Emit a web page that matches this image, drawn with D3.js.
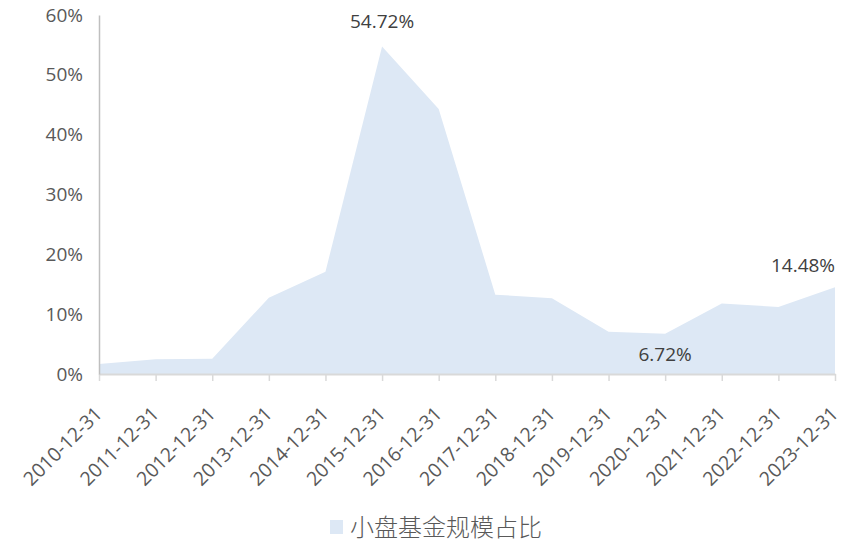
<!DOCTYPE html>
<html>
<head>
<meta charset="utf-8">
<script src="https://cdn.jsdelivr.net/npm/d3@7"></script>
<style>
  body { margin:0; background:#fff; }
  text { font-family: "Open Sans", "Noto Sans CJK SC", sans-serif; }
</style>
</head>
<body>
<svg id="chart" width="846" height="546"></svg>
<script>
var dates = ["2010-12-31","2011-12-31","2012-12-31","2013-12-31","2014-12-31","2015-12-31","2016-12-31",
             "2017-12-31","2018-12-31","2019-12-31","2020-12-31","2021-12-31","2022-12-31","2023-12-31"];
var shares = [0.0167,0.0245,0.0256,0.1276,0.1710,0.5472,0.4430,0.1326,0.1266,0.0707,0.0672,0.1180,0.1120,0.1448];
var yTicks = [0,0.1,0.2,0.3,0.4,0.5,0.6];
var labelled = ["2015-12-31","2020-12-31","2023-12-31"];
var seriesName = "小盘基金规模占比";

var svg = d3.select("#chart");
var margin = {left:99, right:835, top:15, bottom:374};

var x = d3.scalePoint().domain(dates).range([margin.left, margin.right]);
var y = d3.scaleLinear().domain([0, 0.6]).range([margin.bottom, margin.top]);

var data = dates.map(function(d, i){ return {date:d, v:shares[i]}; });

// area
var area = d3.area()
  .x(function(d){ return x(d.date); })
  .y0(y(0))
  .y1(function(d){ return y(d.v); });

svg.append("path")
  .datum(data)
  .attr("d", area)
  .attr("fill", "#dde8f5");

// x axis
var xAxis = svg.append("g")
  .attr("transform", "translate(0," + margin.bottom + ")")
  .call(d3.axisBottom(x).tickSize(7).tickSizeOuter(0).tickPadding(0));
xAxis.select(".domain").attr("stroke", "#d9d9d9").attr("stroke-width", 2);
xAxis.selectAll(".tick line").attr("stroke", "#d9d9d9").attr("stroke-width", 1.5);
xAxis.selectAll(".tick text")
  .attr("font-size", 19.5)
  .attr("fill", "#595959")
  .attr("text-anchor", "end")
  .attr("y", 0)
  .attr("dy", 0)
  .attr("transform", "translate(4,41) rotate(-45)");

// y axis
var yAxis = svg.append("g")
  .attr("transform", "translate(" + margin.left + ",0)")
  .call(d3.axisLeft(y).tickValues(yTicks).tickFormat(d3.format(".0%")).tickSize(0).tickPadding(16));
yAxis.select(".domain").attr("stroke", "#bfbfbf").attr("stroke-width", 1.5);
yAxis.selectAll(".tick text").attr("font-size", 19).attr("fill", "#595959");

// data labels
var offsets = {"2015-12-31":[0,-25], "2020-12-31":[0,21], "2023-12-31":[-32,-22]};
svg.append("g").selectAll("text")
  .data(data.filter(function(d){ return labelled.indexOf(d.date) >= 0; }))
  .enter().append("text")
  .attr("x", function(d){ return x(d.date) + offsets[d.date][0]; })
  .attr("y", function(d){ return y(d.v) + offsets[d.date][1]; })
  .attr("dy", "0.35em")
  .attr("text-anchor", "middle")
  .attr("font-size", 19)
  .attr("fill", "#404040")
  .text(function(d){ return d3.format(".2%")(d.v); });

// legend
var legend = svg.append("g").attr("transform", "translate(330,527)");
legend.append("rect").attr("x", 0).attr("y", -7).attr("width", 13).attr("height", 14).attr("fill", "#dde8f5");
legend.append("text").attr("x", 20).attr("dy", "0.36em")
  .attr("font-size", 24).attr("fill", "#595959")
  .attr("font-family", "Noto Sans CJK SC")
  .attr("font-weight", 300)
  .text(seriesName);
</script>
</body>
</html>
